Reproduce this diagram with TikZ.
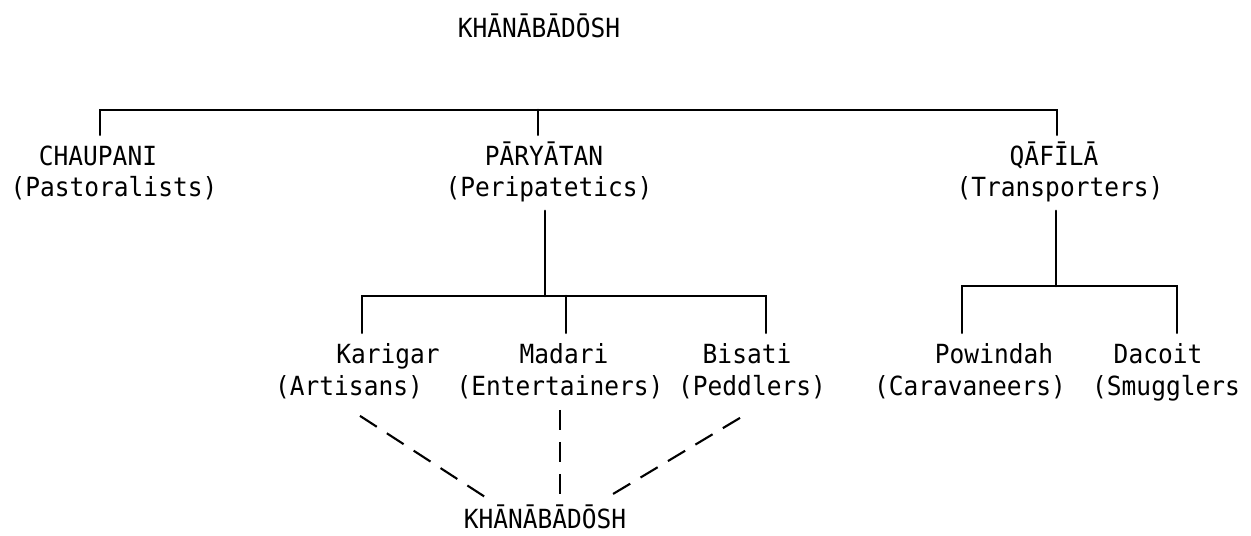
\documentclass[tikz,border=0pt]{standalone}
\usepackage{fontspec}
\newfontfamily\tyfont[FakeStretch=0.93]{DejaVu Sans Mono}
\usetikzlibrary{calc}

\begin{document}
\begin{tikzpicture}[x=0.02cm,y=-0.02cm,
 every node/.style={font=\tyfont\fontsize{15}{17}\selectfont},
 lbl/.style={anchor=base,inner sep=0pt,text height=17.5pt,text depth=7.7pt},
 tree/.style={line width=1.5pt,line cap=round},
 link/.style={line width=1.2pt,dash pattern=on 0.4cm off 0.24cm}]
\useasboundingbox (0,0) rectangle (1251,536);
\foreach \nm/\x/\y/\txt in {
  top/539/38/KHĀNĀBĀDŌSH,
  chp/98/166/CHAUPANI, pry/544/166/PĀRYĀTAN, qaf/1054/166/QĀFĪLĀ,
  chpg/114/197/{(Pastoralists)}, pryg/549/197/{(Peripatetics)}, qafg/1060/197/{(Transporters)},
  kar/388/364/Karigar, mad/564/364/Madari, bis/747/364/Bisati,
  pow/994/364/Powindah, dac/1158/364/Dacoit,
  artg/349/396/{(Artisans)}, entg/560/396/{(Entertainers)}, pedg/752/396/{(Peddlers)},
  carg/970/396/{(Caravaneers)}, smug/1166/396/{(Smugglers},
  khb/545/529/KHĀNĀBĀDŌSH}{
 \node[lbl] (\nm) at (\x,\y) {\txt};}
% first level
\coordinate (jC) at (100,110); \coordinate (jP) at (538,110); \coordinate (jQ) at (1057,110);
\draw[tree] (jC |- chp.north) -- (jC) -- (jQ) -- (jQ |- qaf.north);
\draw[tree] (jP) -- (jP |- pry.north);
% peripatetics
\coordinate (kP) at (545,296);
\coordinate (kK) at (362,296); \coordinate (kM) at (566,296); \coordinate (kB) at (766,296);
\draw[tree] (kP |- pryg.south) -- (kP);
\draw[tree] (kK |- kar.north) -- (kK) -- (kB) -- (kB |- bis.north);
\draw[tree] (kM) -- (kM |- mad.north);
% transporters
\coordinate (kQ) at (1056,286); \coordinate (kW) at (962,286); \coordinate (kD) at (1177,286);
\draw[tree] (kQ |- qafg.south) -- (kQ);
\draw[tree] (kW |- pow.north) -- (kW) -- (kD) -- (kD |- dac.north);
% back to khanabadosh
\draw[link] ([shift={(11,6)}]artg.south) -- ([xshift=0.46cm]khb.north west);
\draw[link] (entg.south) -- (entg.south |- khb.north);
\draw[link] ([shift={(-12,8)}]pedg.south) -- ([xshift=-0.4cm]khb.north east);
\end{tikzpicture}
\end{document}
